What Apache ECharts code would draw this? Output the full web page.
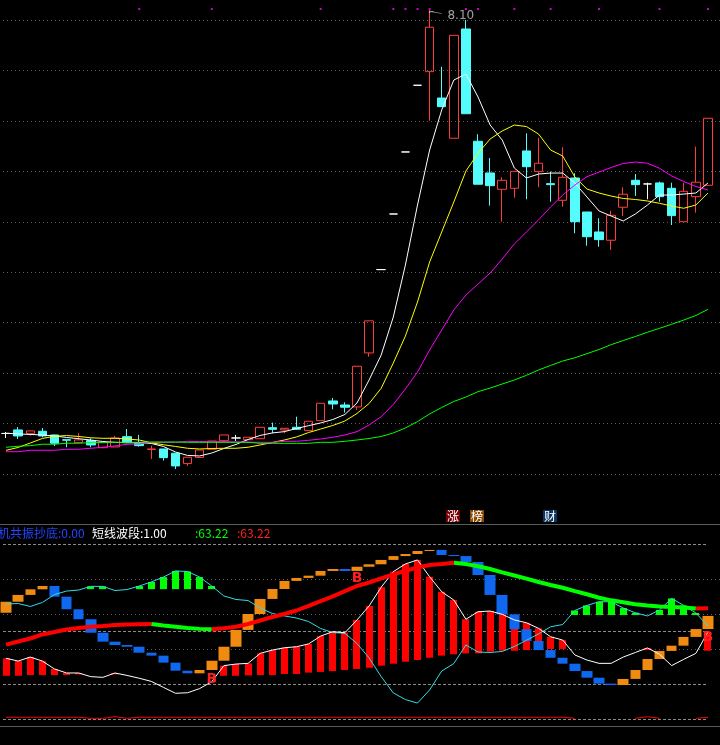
<!DOCTYPE html>
<html><head><meta charset="utf-8">
<script src="https://cdn.jsdelivr.net/npm/echarts@6/dist/echarts.min.js"></script>
<style>html,body{margin:0;padding:0;background:#000;}#c{width:720px;height:745px;}</style>
</head><body><div id="c"></div>
<script>
// ---------- data ----------
const days = Array.from({length: 59}, (_, i) => 'D' + (i + 1));

const kOpen  = [3.902,3.937,3.900,3.924,3.887,3.840,3.811,3.831,3.761,3.768,3.870,3.811,3.743,3.748,3.706,3.603,3.664,3.745,3.830,3.857,3.840,3.850,3.959,3.937,3.963,3.930,4.029,4.224,4.184,4.165,4.700,5.526,6.077,6.692,7.353,7.488,7.227,6.828,7.911,6.798,6.484,6.322,6.332,6.702,6.497,6.378,6.213,6.434,6.097,5.899,5.817,6.144,6.411,6.375,6.385,6.332,6.001,6.249,6.362];
const kClose = [3.902,3.877,3.927,3.877,3.805,3.835,3.838,3.788,3.811,3.857,3.811,3.781,3.748,3.662,3.580,3.666,3.738,3.827,3.887,3.857,3.864,3.963,3.943,3.953,3.944,4.023,4.201,4.194,4.162,4.568,5.018,5.526,6.077,6.692,7.353,7.928,7.141,7.848,7.071,6.372,6.358,6.411,6.500,6.546,6.580,6.368,6.441,6.001,5.852,5.823,6.064,6.273,6.368,6.375,6.249,6.061,6.302,6.392,7.026];
const kLow   = [3.857,3.847,3.880,3.864,3.778,3.765,3.811,3.765,3.755,3.768,3.805,3.771,3.649,3.632,3.549,3.580,3.664,3.745,3.815,3.828,3.840,3.850,3.904,3.904,3.937,3.930,4.029,4.142,4.108,4.135,4.663,5.526,6.077,6.692,7.353,7.002,7.141,6.828,7.071,6.372,6.160,6.001,6.239,6.223,6.342,6.199,6.150,5.886,5.763,5.753,5.721,6.057,6.256,6.223,6.199,5.968,6.001,6.090,6.362];
const kHigh  = [3.917,3.966,3.927,3.956,3.890,3.840,3.904,3.854,3.811,3.877,3.946,3.887,3.781,3.748,3.706,3.666,3.738,3.827,3.887,3.887,3.864,3.963,4.009,3.953,4.068,4.023,4.201,4.254,4.211,4.568,5.020,5.526,6.077,6.692,7.353,8.10,7.537,7.848,8.00,6.868,6.632,6.441,6.500,6.877,6.833,6.497,6.738,6.481,6.097,6.035,6.110,6.342,6.474,6.387,6.398,6.387,6.387,6.744,7.026];

const ma5  = [3.904,3.897,3.892,3.887,3.877,3.862,3.850,3.837,3.822,3.814,3.810,3.809,3.803,3.773,3.718,3.684,3.679,3.708,3.753,3.793,3.842,3.882,3.907,3.920,3.951,3.979,4.006,4.040,4.090,4.204,4.432,4.680,5.056,5.572,6.166,6.711,7.108,7.405,7.464,7.237,6.959,6.810,6.533,6.434,6.473,6.483,6.483,6.384,6.246,6.107,6.057,6.008,6.077,6.166,6.265,6.265,6.275,6.285,6.384];
const ma10 = [3.735,3.763,3.807,3.852,3.874,3.881,3.872,3.859,3.854,3.854,3.847,3.837,3.809,3.790,3.773,3.755,3.748,3.753,3.755,3.755,3.765,3.788,3.812,3.837,3.867,3.911,3.946,3.981,4.025,4.100,4.199,4.350,4.600,4.868,5.205,5.601,5.899,6.196,6.503,6.679,6.820,6.900,6.959,6.944,6.870,6.711,6.652,6.444,6.325,6.285,6.255,6.231,6.221,6.206,6.183,6.156,6.134,6.166,6.285];
const ma20 = [3.721,3.721,3.735,3.735,3.735,3.745,3.745,3.755,3.765,3.778,3.795,3.798,3.814,3.814,3.814,3.824,3.822,3.820,3.820,3.818,3.816,3.814,3.814,3.824,3.824,3.834,3.847,3.864,3.887,3.920,3.986,4.068,4.189,4.343,4.511,4.729,4.927,5.126,5.274,5.383,5.492,5.631,5.780,5.899,6.018,6.147,6.265,6.364,6.447,6.493,6.538,6.578,6.592,6.580,6.530,6.454,6.399,6.350,6.315];
const ma60 = [3.765,3.775,3.781,3.795,3.795,3.805,3.805,3.811,3.811,3.814,3.814,3.814,3.817,3.817,3.817,3.814,3.814,3.814,3.814,3.814,3.814,3.804,3.804,3.804,3.804,3.804,3.814,3.814,3.824,3.837,3.852,3.872,3.907,3.956,4.020,4.095,4.159,4.219,4.263,4.316,4.352,4.392,4.432,4.478,4.531,4.576,4.620,4.652,4.693,4.734,4.782,4.823,4.863,4.905,4.944,4.984,5.026,5.071,5.132];

const flagDays = [11,17,26,32,33,34,35,38,39,42,45,49,54,58];

// lower indicator panel (0..100)
const stepLine = [60.7,67.0,70.9,74.1,76.0,69.9,62.7,57.0,49.3,44.2,42.3,41.3,37.9,36.2,32.2,27.6,26.1,28.0,33.3,41.3,50.9,60.0,68.6,74.3,78.9,80.6,81.9,84.6,85.7,84.6,87.0,88.4,90.9,93.1,94.3,96.0,96.6,93.7,93.1,89.7,82.3,70.9,59.8,51.3,44.6,39.4,35.0,31.6,27.4,23.6,20.2,19.4,22.9,28.0,34.3,38.9,41.9,46.9,51.4,58.9];
const cyanLine = [65.7,66.0,64.3,66.6,71.1,73.1,73.7,75.8,75.8,73.4,74.0,76.0,78.3,81.1,84.6,84.3,81.1,76.0,70.3,68.3,67.7,63.4,60.3,58.9,57.7,55.7,51.7,49.4,49.0,43.1,34.9,24.2,14.9,11.1,9.1,16.6,27.4,31.7,42.3,38.3,38.0,38.6,41.4,45.0,48.6,52.7,54.0,62.0,64.9,67.0,67.0,63.4,60.7,58.9,62.3,68.9,64.9,60.6,53.1];
const greenBase = [null,null,null,null,null,null,null,74.2,74.2,null,null,74.2,74.2,74.2,74.2,74.2,74.2,74.2,null,null,null,null,null,null,null,null,null,null,null,null,null,null,null,null,null,null,null,null,null,null,null,null,null,null,null,null,null,59.4,59.4,59.4,59.4,59.4,59.4,null,59.4,59.4,59.4,59.4,null];
const whiteLine = [34.7,33.1,35.4,33.1,28.6,26.3,26.3,24.2,23.8,26.3,24.9,23.3,21.5,18.1,14.7,15.0,17.4,21.3,30.5,31.4,31.8,37.5,39.4,40.7,41.3,42.9,47.4,49.9,49.3,56.6,64.6,75.3,84.2,88.6,90.9,81.3,72.7,68.0,57.0,61.3,61.7,59.8,56.6,55.0,51.8,47.0,45.1,36.6,33.7,31.8,31.8,35.4,38.0,40.6,37.0,30.5,34.1,37.5,49.7];
const redBase = [24.7,24.7,25.1,25.1,25.1,25.1,25.5,null,null,25.5,null,null,null,null,null,null,null,null,24.7,24.7,24.9,25.1,25.1,25.7,25.7,26.5,26.9,27.4,28.0,28.6,29.3,30.5,31.6,32.7,33.7,35.0,36.2,37.0,37.5,37.5,38.5,39.0,39.0,39.4,39.4,40.0,40.0,null,null,null,null,null,null,39.4,null,null,null,null,39.0];
const thickLine = [42.5,44.3,46.0,48.3,49.7,51.1,52.0,52.7,53.1,53.7,54.0,54.2,54.3,53.4,52.7,52.0,51.5,51.3,51.9,52.7,54.3,56.3,58.3,60.0,62.0,64.6,67.4,70.1,73.1,76.0,78.0,80.3,82.6,84.7,86.6,88.0,88.6,89.3,88.6,87.3,85.7,83.8,82.0,80.2,78.3,76.6,75.0,73.1,71.3,69.3,67.8,66.7,65.6,64.9,64.3,64.0,63.7,63.15,63.22];
const baseRedLine = [1.0,1.0,1.0,1.0,1.0,1.0,1.0,0.4,0.4,1.3,0.4,1.0,1.0,1.0,1.0,1.0,1.0,1.0,1.0,1.0,1.0,1.0,1.0,1.0,1.0,1.0,1.0,1.0,1.0,1.0,1.0,1.0,1.0,1.0,1.0,1.0,1.0,1.0,1.0,1.0,1.0,1.0,1.0,1.0,1.0,1.0,1.0,0.4,null,null,null,null,0.4,1.3,0.4,null,null,0.4,1.0];
const buyDays = [17, 29, 58];
const buyLevels = [22.8, 80.6, 46.6];
const dashLevels = [0, 20, 50, 100];

// ---------- build ----------
const kData = kOpen.map((o, i) => [o, kClose[i], kLow[i], kHigh[i]]);
const maxHigh = Math.max(...kHigh);
const maxIdx = kHigh.indexOf(maxHigh);
const stepData = stepLine.slice(1).map((v, i) => {
  const p = stepLine[i];
  return [p, v, Math.min(p, v), Math.max(p, v)];
});
const thickUp = thickLine.map((v, i) => {
  const a = i > 0 && thickLine[i] >= thickLine[i - 1];
  const b = i < thickLine.length - 1 && thickLine[i + 1] >= thickLine[i];
  return (a || b || i === 0) ? v : null;
});
const thickDown = thickLine.map((v, i) => {
  const a = i > 0 && thickLine[i] < thickLine[i - 1];
  const b = i < thickLine.length - 1 && thickLine[i + 1] < thickLine[i];
  return (a || b) ? v : null;
});
function floatBars(lows, highs, color, ratio) {
  const data = [];
  lows.forEach((lo, i) => { if (lo != null && highs[i] != null && highs[i] > lo) data.push([i, lo, highs[i]]); });
  return {
    type: 'custom', xAxisIndex: 4, yAxisIndex: 4, data, z: 2, clip: false,
    encode: { x: 0, y: [1, 2] },
    renderItem(params, api) {
      const a = api.coord([api.value(0), api.value(1)]);
      const b = api.coord([api.value(0), api.value(2)]);
      const w = api.size([1, 0])[0] * ratio;
      return { type: 'rect', shape: { x: Math.round(a[0] - w / 2), y: b[1], width: Math.round(w), height: a[1] - b[1] }, style: { fill: color } };
    }
  };
}
const hidden = { show: false };
const L = -3, W = 717;
const font12 = '12px "Noto Sans CJK SC", sans-serif';

const chart = echarts.init(document.getElementById('c'), null, { renderer: 'canvas' });
chart.setOption({
  backgroundColor: '#000',
  animation: false,
  grid: [
    { left: 3, right: 0, top: 20, height: 454 },
    { left: L, width: W, top: 20, height: 454 },
    { left: L, width: W, top: 4, height: 10 },
    { left: 3, right: 0, top: 579, height: 70 },
    { left: L, width: W, top: 544, height: 175 }
  ],
  xAxis: [
    { gridIndex: 0, type: 'value', min: 0, max: 1, show: false },
    { gridIndex: 1, type: 'category', data: days, show: false },
    { gridIndex: 2, type: 'category', data: days, show: false },
    { gridIndex: 3, type: 'value', min: 0, max: 1, show: false },
    { gridIndex: 4, type: 'category', data: days, show: false }
  ],
  yAxis: [
    { gridIndex: 0, type: 'value', min: 3.5, max: 8.0, interval: 0.5, axisLine: hidden, axisTick: hidden, axisLabel: hidden,
      splitLine: { show: true, lineStyle: { color: '#5c5c5c', width: 1, type: [1, 3] } } },
    { gridIndex: 1, type: 'value', min: 3.5, max: 8.0, show: false },
    { gridIndex: 2, type: 'value', min: 0, max: 1, show: false },
    { gridIndex: 3, type: 'value', min: 40, max: 80, interval: 20, axisLine: hidden, axisTick: hidden, axisLabel: hidden,
      splitLine: { show: true, lineStyle: { color: '#5c5c5c', width: 1, type: [1, 3] } } },
    { gridIndex: 4, type: 'value', min: 0, max: 100, show: false }
  ],
  series: [
    {
      type: 'candlestick', xAxisIndex: 1, yAxisIndex: 1, data: kData, barWidth: 9, clip: false, z: 2,
      itemStyle: { color: 'transparent', color0: '#54fcfc', borderColor: '#ff3c3c', borderColor0: '#54fcfc', borderColorDoji: '#ffffff', borderWidth: 1 }
    },
    { type: 'line', xAxisIndex: 1, yAxisIndex: 1, data: ma5, symbol: 'none', z: 3, lineStyle: { color: '#ffffff', width: 1 } },
    { type: 'line', xAxisIndex: 1, yAxisIndex: 1, data: ma10, symbol: 'none', z: 3, lineStyle: { color: '#ffff00', width: 1 } },
    { type: 'line', xAxisIndex: 1, yAxisIndex: 1, data: ma20, symbol: 'none', z: 3, lineStyle: { color: '#ff00ff', width: 1 } },
    { type: 'line', xAxisIndex: 1, yAxisIndex: 1, data: ma60, symbol: 'none', z: 3, lineStyle: { color: '#00ff00', width: 1 } },
    {
      type: 'scatter', xAxisIndex: 1, yAxisIndex: 1, data: [[maxIdx, maxHigh]], clip: false, silent: true, z: 6,
      symbol: 'path://M0,0 L12,5 M0,0 L4,0 M0,0 L0,4', symbolSize: [12, 5], symbolKeepAspect: true, symbolOffset: [6, 2.5],
      itemStyle: { color: 'none', borderColor: '#c0c0c0', borderWidth: 1 },
      label: { show: true, position: 'right', distance: 2, offset: [0, 3], color: '#c8c8c8', fontSize: 12,
        fontFamily: 'DejaVu Sans', formatter: p => p.value[1].toFixed(2) }
    },
    { type: 'scatter', xAxisIndex: 2, yAxisIndex: 2, data: flagDays.map(d => [d, 0.5]), symbol: 'rect', symbolSize: 2,
      itemStyle: { color: '#ff00ff' }, silent: true },

    floatBars(redBase, whiteLine, '#ff0000', 0.58),
    floatBars(greenBase, cyanLine, '#00ff00', 0.58),
    {
      type: 'candlestick', xAxisIndex: 4, yAxisIndex: 4, data: stepData, barWidth: 11, z: 3,
      itemStyle: { color: '#f08a10', color0: '#1068f0', borderColor: '#f08a10', borderColor0: '#1068f0', borderWidth: 0 }
    },
    {
      type: 'line', xAxisIndex: 4, yAxisIndex: 4, data: cyanLine, symbol: 'none', z: 4, lineStyle: { color: '#30dde6', width: 1 },
      markLine: {
        silent: true, symbol: 'none', z: 1, label: { show: false },
        lineStyle: { color: '#8a8a8a', width: 1, type: [3, 2] },
        data: dashLevels.map(v => [{ yAxis: v, x: 3 }, { yAxis: v, x: 708 }])
      }
    },
    { type: 'line', xAxisIndex: 4, yAxisIndex: 4, data: whiteLine, symbol: 'none', z: 4, lineStyle: { color: '#ffffff', width: 1 } },
    { type: 'line', xAxisIndex: 4, yAxisIndex: 4, data: thickDown, symbol: 'none', z: 5, lineStyle: { color: '#00ff00', width: 4 } },
    { type: 'line', xAxisIndex: 4, yAxisIndex: 4, data: thickUp, symbol: 'none', z: 5, lineStyle: { color: '#ff0000', width: 4 } },
    { type: 'line', xAxisIndex: 4, yAxisIndex: 4, data: baseRedLine, symbol: 'none', z: 4, lineStyle: { color: '#ff0000', width: 1 } },
    {
      type: 'custom', xAxisIndex: 4, yAxisIndex: 4, data: buyDays.map((d, k) => [d, buyLevels[k]]), z: 8, silent: true, clip: false,
      encode: { x: 0, y: 1 },
      renderItem(params, api) {
        const p = api.coord([api.value(0), api.value(1)]);
        return { type: 'text', x: p[0], y: p[1], style: { text: 'B', fill: '#ff2020', font: 'bold 14px "DejaVu Sans"', align: 'center', verticalAlign: 'middle' } };
      }
    }
  ],
  graphic: [
    { type: 'line', shape: { x1: 0, y1: 524.5, x2: 720, y2: 524.5 }, style: { stroke: '#5a5a5a', lineWidth: 1 }, silent: true },
    { type: 'line', shape: { x1: 0, y1: 726.5, x2: 720, y2: 726.5 }, style: { stroke: '#5a5a5a', lineWidth: 1 }, silent: true },
    { type: 'text', x: -2, y: 533, style: { text: '机共振抄底:0.00', fill: '#2244ff', font: font12, verticalAlign: 'middle' } },
    { type: 'text', x: 92, y: 533, style: { text: '短线波段:1.00', fill: '#ffffff', font: font12, verticalAlign: 'middle' } },
    { type: 'text', x: 195, y: 533, style: { text: ':' + thickLine[thickLine.length - 1].toFixed(2), fill: '#00ff00', font: font12, verticalAlign: 'middle' } },
    { type: 'text', x: 237, y: 533, style: { text: ':' + thickLine[thickLine.length - 1].toFixed(2), fill: '#ff2020', font: font12, verticalAlign: 'middle' } },
    { type: 'text', x: 446, y: 516, style: { text: '涨', fill: '#ffffff', font: font12, verticalAlign: 'middle', backgroundColor: '#7a0000', padding: [0, 1] } },
    { type: 'text', x: 470, y: 516, style: { text: '榜', fill: '#ffffff', font: font12, verticalAlign: 'middle', backgroundColor: '#8a4a00', padding: [0, 1] } },
    { type: 'text', x: 543, y: 516, style: { text: '财', fill: '#ffffff', font: font12, verticalAlign: 'middle', backgroundColor: '#0a3464', padding: [0, 1] } }
  ]
});
</script>
</body></html>
